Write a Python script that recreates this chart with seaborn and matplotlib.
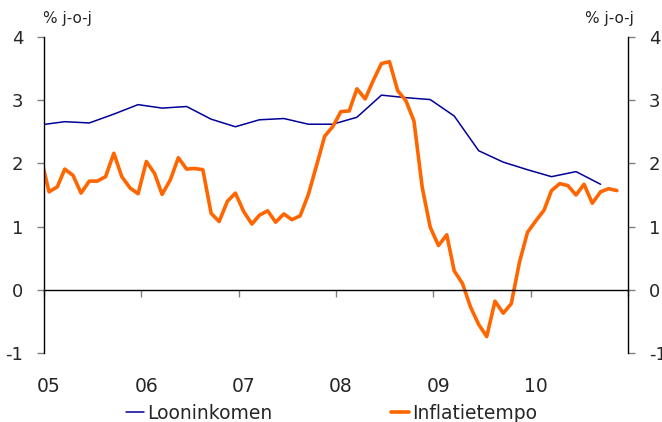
import pandas as pd
import matplotlib
matplotlib.use('Agg')
import matplotlib.pyplot as plt
import matplotlib.dates as mdates
import seaborn as sns

sns.set_style('white')
plt.rcParams['font.family'] = ['DejaVu Sans']
plt.rcParams['axes.unicode_minus'] = False

# Looninkomen, quarterly (Q4 2004 .. Q3 2010), % j-o-j
looninkomen = [2.61, 2.66, 2.64, 2.78, 2.93, 2.875, 2.90, 2.70, 2.58, 2.69, 2.71, 2.62,
               2.62, 2.73, 3.08, 3.04, 3.01, 2.75, 2.20, 2.02, 1.90, 1.79, 1.87, 1.67]

# Inflatietempo, monthly (Dec 2004 .. Nov 2010), % j-o-j
inflatie = [2.10,
            1.55, 1.63, 1.91, 1.81, 1.53, 1.72, 1.72, 1.79, 2.16, 1.79, 1.61, 1.52,
            2.03, 1.84, 1.51, 1.74, 2.09, 1.91, 1.92, 1.90, 1.21, 1.08, 1.40, 1.53,
            1.24, 1.04, 1.18, 1.25, 1.07, 1.20, 1.11, 1.17, 1.51, 1.96, 2.43, 2.58,
            2.82, 2.83, 3.18, 3.02, 3.31, 3.58, 3.61, 3.15, 2.99, 2.67, 1.62, 0.99,
            0.70, 0.87, 0.30, 0.10, -0.27, -0.55, -0.74, -0.18, -0.37, -0.22, 0.44, 0.91,
            1.09, 1.26, 1.57, 1.68, 1.65, 1.50, 1.67, 1.37, 1.55, 1.60, 1.57]

jaar_labels = ['05', '06', '07', '08', '09', '10']

offset = pd.Timedelta(days=19)
df_loon = pd.DataFrame({
    'datum': pd.date_range('2004-12-01', periods=len(looninkomen), freq='3MS') + offset,
    'waarde': looninkomen})
df_infl = pd.DataFrame({
    'datum': pd.date_range('2004-12-01', periods=len(inflatie), freq='MS') + offset,
    'waarde': inflatie})

fig = plt.figure(figsize=(6.62, 4.22), dpi=100)
ax = fig.add_axes([44 / 662, 1 - 353 / 422, 584 / 662, 316 / 422])

sns.lineplot(data=df_loon, x='datum', y='waarde', color='#000099', linewidth=1.1,
             ax=ax, label='Looninkomen')
sns.lineplot(data=df_infl, x='datum', y='waarde', color='#FF6600', linewidth=2.6,
             ax=ax, label='Inflatietempo')

ax.set_xlim(pd.Timestamp('2005-01-01'), pd.Timestamp('2011-01-01'))
ax.set_ylim(-1, 4)
ax.set_yticks(range(-1, 5))
ax.set_xlabel('')
ax.set_ylabel('')

for side in ['left', 'right']:
    ax.spines[side].set_color('black')
    ax.spines[side].set_linewidth(1.0)
ax.spines['top'].set_visible(False)
ax.spines['bottom'].set_position(('data', 0))
ax.spines['bottom'].set_color('black')
ax.spines['bottom'].set_linewidth(1.0)

ax.set_xticks(pd.date_range('2005-01-01', '2011-01-01', freq='YS'))
ax.tick_params(axis='x', direction='out', length=5, width=1, color='#808080',
               bottom=True, labelbottom=False)
ax.tick_params(axis='y', direction='out', length=5, width=1, color='#808080',
               left=True, right=True, labelleft=True, labelright=True,
               labelsize=13, pad=10)

# year labels under the plot, centred on January
sec = ax.secondary_xaxis('bottom')
label_pos = pd.date_range('2005-01-01', periods=len(jaar_labels), freq='YS') + offset
sec.set_xticks(mdates.date2num(label_pos))
sec.set_xticklabels(jaar_labels)
sec.tick_params(length=0, pad=17, labelsize=13.5)
sec.spines['bottom'].set_visible(False)

ax.legend(loc='center', bbox_to_anchor=(0.492, -0.19), ncol=2, frameon=False,
          fontsize=13.5, handlelength=1.0, handletextpad=0.15, columnspacing=6.3,
          borderaxespad=0)

fig.text(43 / 662, 1 - 19 / 422, '% j-o-j', fontsize=11, ha='left', va='center')
fig.text(634 / 662, 1 - 19 / 422, '% j-o-j', fontsize=11, ha='right', va='center')

fig.savefig('out.png', dpi=100)
